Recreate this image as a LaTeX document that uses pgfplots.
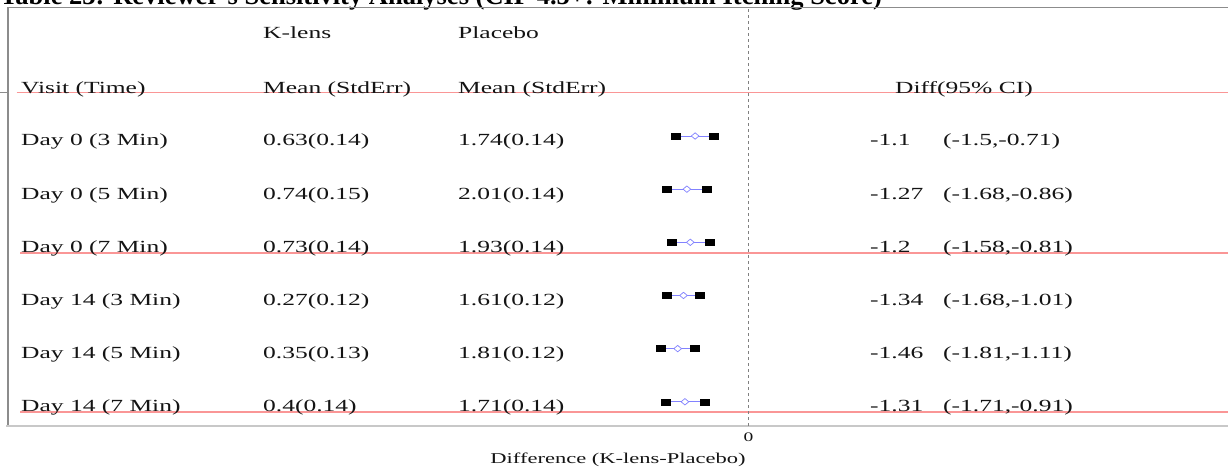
\documentclass[border=0pt]{standalone}
\usepackage{fontspec}
\setmainfont{Liberation Serif}
\newfontfamily\tf[FakeStretch=1.5]{Liberation Serif}
\usepackage{pgfplots}
\pgfplotsset{compat=1.18}
\usepackage{pgfplotstable}
\definecolor{txt}{RGB}{20,20,20}
\definecolor{redl}{RGB}{250,150,150}
\definecolor{framegray}{RGB}{140,140,140}
\definecolor{botgray}{RGB}{200,200,200}
\definecolor{ciblue}{RGB}{130,130,255}

% y: 6 = Day 0 (3 Min) ... 1 = Day 14 (7 Min)
\pgfplotstableread{
y mean lo hi
6 -1.10 -1.50 -0.71
5 -1.27 -1.68 -0.86
4 -1.20 -1.58 -0.81
3 -1.34 -1.68 -1.01
2 -1.46 -1.81 -1.11
1 -1.31 -1.71 -0.91
}\ci

\newcommand{\tx}{\tf\fontsize{17}{20}\selectfont\color{txt}}
\tikzset{tl/.style={anchor=base west, inner sep=0pt, font=\tx}}

\begin{document}
\begin{tikzpicture}
\useasboundingbox (0pt,0pt) rectangle (1228pt,-468pt);
\begin{pgfinterruptboundingbox}
\node[anchor=base west, inner sep=0pt, font=\fontsize{26.5}{30}\selectfont\bfseries] at (0pt,-5pt) {Table 23: Reviewer's Sensitivity Analyses (CIP 4.5+: Minimum Itching Score)};
\end{pgfinterruptboundingbox}
\begin{axis}[
  at={(8pt,-7pt)}, anchor=north west,
  scale only axis, width=1220pt, height=419pt,
  xmin=-15.268, xmax=9.887, ymin=0.544, ymax=8.427,
  axis line style={draw=none},
  ytick=\empty, xtick={0}, xticklabels={\tf\fontsize{13}{15}\selectfont 0}, major tick length=0pt,
  xticklabel style={text=txt, anchor=base, yshift=-15pt},
  xlabel={Difference (K-lens-Placebo)},
  xlabel style={font=\tf\fontsize{15}{18}\selectfont, text=txt, at={(axis description cs:0.5,0)}, anchor=base, yshift=-37pt},
  clip=false,
]
% frame
\draw[framegray, line width=1.2pt] (axis cs:-15.268,0.544) -- (axis cs:-15.268,8.427);
\draw[framegray, line width=0.8pt] (axis cs:-15.268,8.427) -- (axis cs:9.887,8.427);
\draw[botgray, line width=2.5pt] (axis cs:-15.3,0.544) -- (axis cs:9.887,0.544);
\draw[framegray, line width=1pt] (axis cs:-15.433,6.818) -- (axis cs:-15.268,6.818);
% red rules
\draw[redl, line width=1.2pt] (axis cs:-15.09,6.818) -- (axis cs:9.887,6.818);
\draw[redl, line width=1.2pt] (axis cs:-15.02,3.799) -- (axis cs:9.887,3.799);
\draw[redl, line width=1.2pt] (axis cs:-15.02,0.807) -- (axis cs:9.887,0.807);
% zero line
\draw[gray, line width=0.6pt, dash pattern=on 3pt off 3pt] (axis cs:0,0.544) -- (axis cs:0,8.427);

% CI lines
\addplot[only marks, mark=none, error bars/.cd, x dir=both, x explicit, error mark=none,
  error bar style={draw=ciblue, solid, line width=0.8pt}]
  table[x=mean, y=y, x error plus expr=\thisrow{hi}-\thisrow{mean}, x error minus expr=\thisrow{mean}-\thisrow{lo}] {\ci};
\addplot[only marks, mark=square*, mark size=3pt, mark options={xscale=1.5, fill=black, draw=black}] table[x=lo, y=y] {\ci};
\addplot[only marks, mark=square*, mark size=3pt, mark options={xscale=1.5, fill=black, draw=black}] table[x=hi, y=y] {\ci};
\addplot[only marks, mark=diamond*, mark size=3.2pt, mark options={xscale=1.6, fill=white, draw=ciblue, line width=0.7pt}] table[x=mean, y=y] {\ci};

% headers
\node[tl] at (axis cs:-10.010,7.825) {K-lens};
\node[tl] at (axis cs:-5.990,7.825) {Placebo};
\node[tl] at (axis cs:-15.0,6.809) {Visit (Time)};
\node[tl] at (axis cs:-10.010,6.809) {Mean (StdErr)};
\node[tl] at (axis cs:-5.990,6.809) {Mean (StdErr)};
\node[tl] at (axis cs:3.021,6.809) {Diff(95\% CI)};
% rows
\node[tl] at (axis cs:-15.0,5.812) {Day 0 (3 Min)};
\node[tl] at (axis cs:-10.010,5.812) {0.63(0.14)};
\node[tl] at (axis cs:-5.990,5.812) {1.74(0.14)};
\node[tl] at (axis cs:2.505,5.812) {-1.1};
\node[tl] at (axis cs:4.010,5.812) {(-1.5,-0.71)};

\node[tl] at (axis cs:-15.0,4.812) {Day 0 (5 Min)};
\node[tl] at (axis cs:-10.010,4.812) {0.74(0.15)};
\node[tl] at (axis cs:-5.990,4.812) {2.01(0.14)};
\node[tl] at (axis cs:2.505,4.812) {-1.27};
\node[tl] at (axis cs:4.010,4.812) {(-1.68,-0.86)};

\node[tl] at (axis cs:-15.0,3.812) {Day 0 (7 Min)};
\node[tl] at (axis cs:-10.010,3.812) {0.73(0.14)};
\node[tl] at (axis cs:-5.990,3.812) {1.93(0.14)};
\node[tl] at (axis cs:2.505,3.812) {-1.2};
\node[tl] at (axis cs:4.010,3.812) {(-1.58,-0.81)};

\node[tl] at (axis cs:-15.0,2.812) {Day 14 (3 Min)};
\node[tl] at (axis cs:-10.010,2.812) {0.27(0.12)};
\node[tl] at (axis cs:-5.990,2.812) {1.61(0.12)};
\node[tl] at (axis cs:2.505,2.812) {-1.34};
\node[tl] at (axis cs:4.010,2.812) {(-1.68,-1.01)};

\node[tl] at (axis cs:-15.0,1.812) {Day 14 (5 Min)};
\node[tl] at (axis cs:-10.010,1.812) {0.35(0.13)};
\node[tl] at (axis cs:-5.990,1.812) {1.81(0.12)};
\node[tl] at (axis cs:2.505,1.812) {-1.46};
\node[tl] at (axis cs:4.010,1.812) {(-1.81,-1.11)};

\node[tl] at (axis cs:-15.0,0.812) {Day 14 (7 Min)};
\node[tl] at (axis cs:-10.010,0.812) {0.4(0.14)};
\node[tl] at (axis cs:-5.990,0.812) {1.71(0.14)};
\node[tl] at (axis cs:2.505,0.812) {-1.31};
\node[tl] at (axis cs:4.010,0.812) {(-1.71,-0.91)};
\end{axis}
\end{tikzpicture}
\end{document}
